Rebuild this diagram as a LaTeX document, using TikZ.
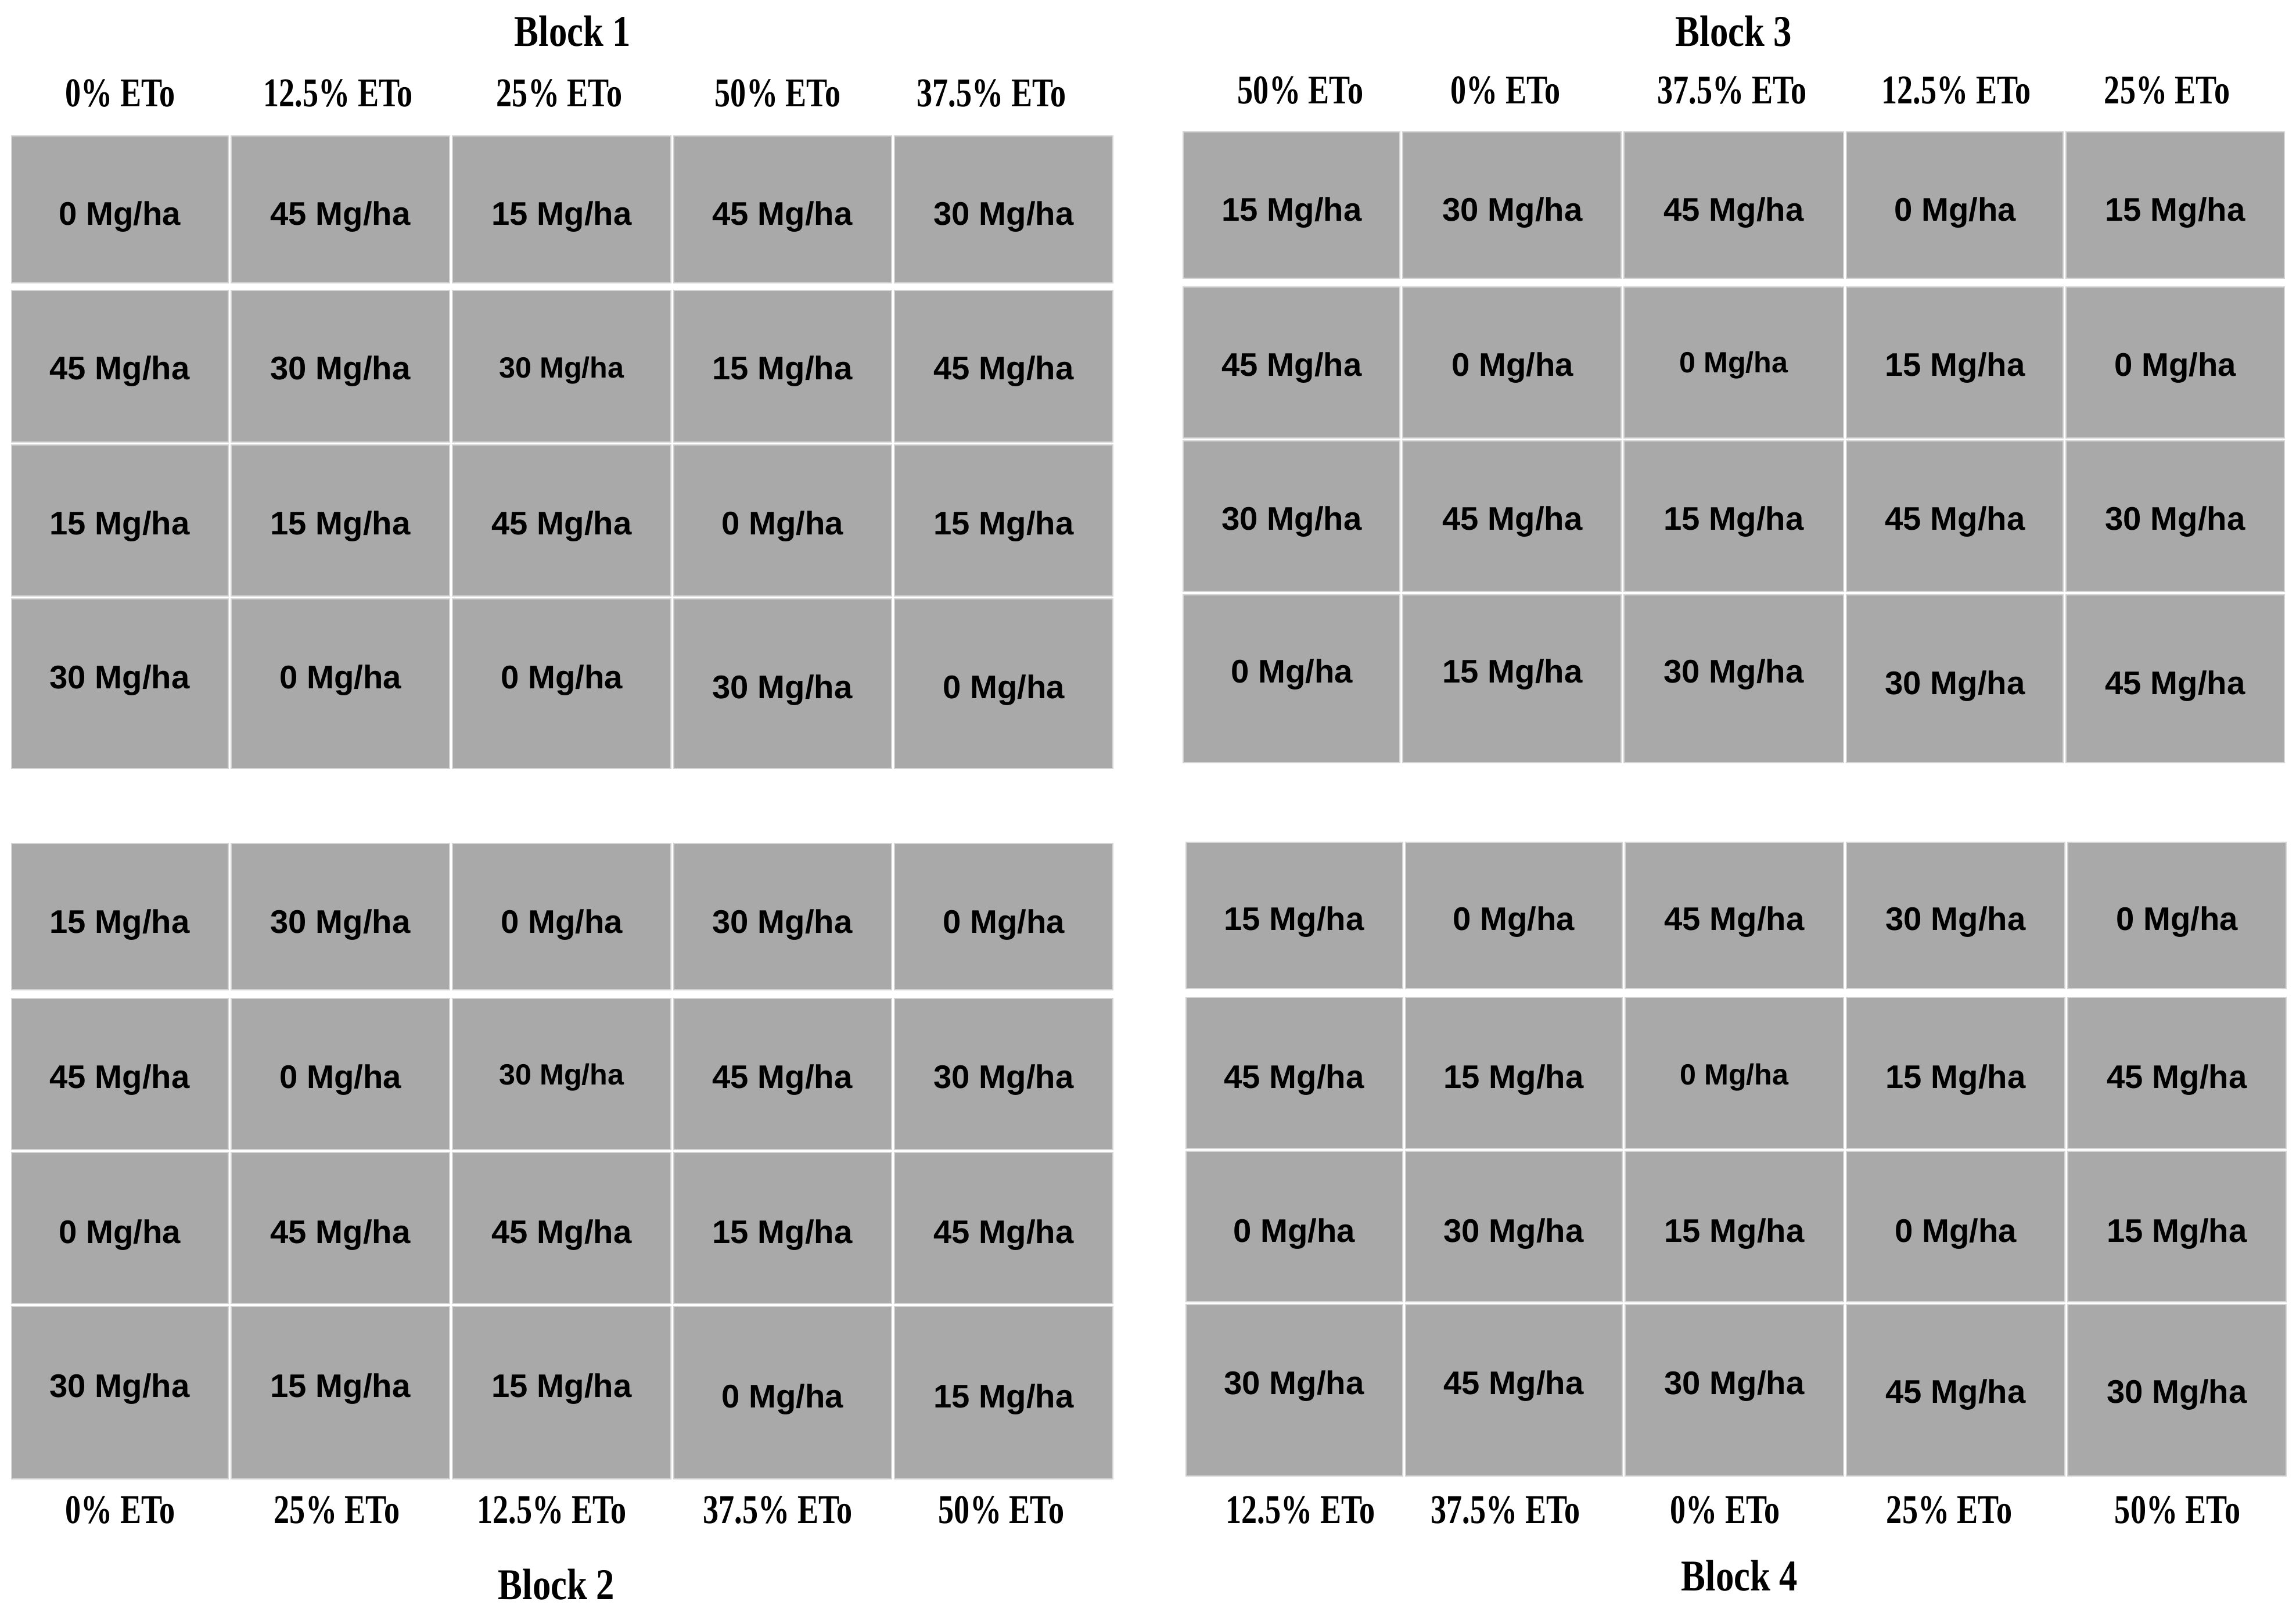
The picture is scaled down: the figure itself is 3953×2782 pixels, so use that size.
\documentclass[tikz,border=0pt]{standalone}
\usepackage{fontspec}
\setmainfont{Liberation Serif}
\newfontfamily\cellfont{Liberation Sans}
\newfontfamily\hdrfont[FakeStretch=0.77]{Liberation Serif}
\newfontfamily\blkfont[FakeStretch=0.83]{Liberation Serif}
\definecolor{plotgray}{RGB}{169,169,169}
\definecolor{edgegray}{RGB}{212,212,212}
\begin{document}
\begin{tikzpicture}[x=0.01cm,y=-0.01cm,
 plotcell/.style={fill=plotgray,draw=edgegray,line width=0.025cm},
 ratetxt/.style={anchor=base,inner sep=0pt,font=\cellfont\bfseries\fontsize{16}{19}\selectfont},
 ratesmall/.style={anchor=base,inner sep=0pt,font=\cellfont\bfseries\fontsize{14.3}{17}\selectfont},
 etotxt/.style={anchor=base,inner sep=0pt,font=\hdrfont\bfseries\fontsize{20}{24}\selectfont},
 blocklabel/.style={anchor=base,inner sep=0pt,font=\blkfont\bfseries\fontsize{21.5}{26}\selectfont}]
\useasboundingbox (0,0) rectangle (3953,2782);

% ---------- plots ----------
\foreach \xa/\xb in {20/393,398/774,779/1155,1160/1535,1540/1916}{
  \foreach \ya/\yb in {234/487,500/761,766/1026,1031/1323,1452/1704,1719/1979,1984/2244,2249/2546}{
    \path[plotcell] (\xa,\ya) rectangle (\xb,\yb);
  }
}
\foreach \xa/\xb in {2037/2410,2415/2791,2796/3174,3179/3552,3557/3933}{
  \foreach \ya/\yb in {227/479,494/754,759/1018,1024/1313}{
    \path[plotcell] (\xa,\ya) rectangle (\xb,\yb);
  }
}
\foreach \xa/\xb in {2042/2415,2420/2793,2798/3174,3179/3555,3560/3936}{
  \foreach \ya/\yb in {1450/1702,1717/1977,1982/2241,2246/2541}{
    \path[plotcell] (\xa,\ya) rectangle (\xb,\yb);
  }
}

% ---------- Block 1 ----------
\node[blocklabel] (blk1) at (986,80) {Block 1};
\node[etotxt] (b1h1) at (207,184) {0\% ETo};
\node[etotxt] (b1h2) at (582,184) {12.5\% ETo};
\node[etotxt] (b1h3) at (963,184) {25\% ETo};
\node[etotxt] (b1h4) at (1339,184) {50\% ETo};
\node[etotxt] (b1h5) at (1707,184) {37.5\% ETo};

\node[ratetxt] (b1r1c1) at (206,388) {0 Mg/ha};
\node[ratetxt] (b1r1c2) at (586,388) {45 Mg/ha};
\node[ratetxt] (b1r1c3) at (967,388) {15 Mg/ha};
\node[ratetxt] (b1r1c4) at (1347,388) {45 Mg/ha};
\node[ratetxt] (b1r1c5) at (1728,388) {30 Mg/ha};

\node[ratetxt] (b1r2c1) at (206,653) {45 Mg/ha};
\node[ratetxt] (b1r2c2) at (586,653) {30 Mg/ha};
\node[ratesmall] (b1r2c3) at (967,651) {30 Mg/ha};
\node[ratetxt] (b1r2c4) at (1347,653) {15 Mg/ha};
\node[ratetxt] (b1r2c5) at (1728,653) {45 Mg/ha};

\node[ratetxt] (b1r3c1) at (206,920) {15 Mg/ha};
\node[ratetxt] (b1r3c2) at (586,920) {15 Mg/ha};
\node[ratetxt] (b1r3c3) at (967,920) {45 Mg/ha};
\node[ratetxt] (b1r3c4) at (1347,920) {0 Mg/ha};
\node[ratetxt] (b1r3c5) at (1728,920) {15 Mg/ha};

\node[ratetxt] (b1r4c1) at (206,1185) {30 Mg/ha};
\node[ratetxt] (b1r4c2) at (586,1185) {0 Mg/ha};
\node[ratetxt] (b1r4c3) at (967,1185) {0 Mg/ha};
\node[ratetxt] (b1r4c4) at (1347,1202) {30 Mg/ha};
\node[ratetxt] (b1r4c5) at (1728,1202) {0 Mg/ha};

% ---------- Block 2 ----------
\node[ratetxt] (b2r1c1) at (206,1606) {15 Mg/ha};
\node[ratetxt] (b2r1c2) at (586,1606) {30 Mg/ha};
\node[ratetxt] (b2r1c3) at (967,1606) {0 Mg/ha};
\node[ratetxt] (b2r1c4) at (1347,1606) {30 Mg/ha};
\node[ratetxt] (b2r1c5) at (1728,1606) {0 Mg/ha};

\node[ratetxt] (b2r2c1) at (206,1873) {45 Mg/ha};
\node[ratetxt] (b2r2c2) at (586,1873) {0 Mg/ha};
\node[ratesmall] (b2r2c3) at (967,1867) {30 Mg/ha};
\node[ratetxt] (b2r2c4) at (1347,1873) {45 Mg/ha};
\node[ratetxt] (b2r2c5) at (1728,1873) {30 Mg/ha};

\node[ratetxt] (b2r3c1) at (206,2140) {0 Mg/ha};
\node[ratetxt] (b2r3c2) at (586,2140) {45 Mg/ha};
\node[ratetxt] (b2r3c3) at (967,2140) {45 Mg/ha};
\node[ratetxt] (b2r3c4) at (1347,2140) {15 Mg/ha};
\node[ratetxt] (b2r3c5) at (1728,2140) {45 Mg/ha};

\node[ratetxt] (b2r4c1) at (206,2405) {30 Mg/ha};
\node[ratetxt] (b2r4c2) at (586,2405) {15 Mg/ha};
\node[ratetxt] (b2r4c3) at (967,2405) {15 Mg/ha};
\node[ratetxt] (b2r4c4) at (1347,2423) {0 Mg/ha};
\node[ratetxt] (b2r4c5) at (1728,2423) {15 Mg/ha};

\node[etotxt] (b2h1) at (207,2622) {0\% ETo};
\node[etotxt] (b2h2) at (580,2622) {25\% ETo};
\node[etotxt] (b2h3) at (950,2622) {12.5\% ETo};
\node[etotxt] (b2h4) at (1339,2622) {37.5\% ETo};
\node[etotxt] (b2h5) at (1724,2622) {50\% ETo};
\node[blocklabel] (blk2) at (958,2753) {Block 2};

% ---------- Block 3 ----------
\node[blocklabel] (blk3) at (2985,80) {Block 3};
\node[etotxt] (b3h1) at (2239,179) {50\% ETo};
\node[etotxt] (b3h2) at (2592,179) {0\% ETo};
\node[etotxt] (b3h3) at (2982,179) {37.5\% ETo};
\node[etotxt] (b3h4) at (3368,179) {12.5\% ETo};
\node[etotxt] (b3h5) at (3731,179) {25\% ETo};

\node[ratetxt] (b3r1c1) at (2224,381) {15 Mg/ha};
\node[ratetxt] (b3r1c2) at (2604,381) {30 Mg/ha};
\node[ratetxt] (b3r1c3) at (2985,381) {45 Mg/ha};
\node[ratetxt] (b3r1c4) at (3366,381) {0 Mg/ha};
\node[ratetxt] (b3r1c5) at (3745,381) {15 Mg/ha};

\node[ratetxt] (b3r2c1) at (2224,648) {45 Mg/ha};
\node[ratetxt] (b3r2c2) at (2604,648) {0 Mg/ha};
\node[ratesmall] (b3r2c3) at (2985,642) {0 Mg/ha};
\node[ratetxt] (b3r2c4) at (3366,648) {15 Mg/ha};
\node[ratetxt] (b3r2c5) at (3745,648) {0 Mg/ha};

\node[ratetxt] (b3r3c1) at (2224,912) {30 Mg/ha};
\node[ratetxt] (b3r3c2) at (2604,912) {45 Mg/ha};
\node[ratetxt] (b3r3c3) at (2985,912) {15 Mg/ha};
\node[ratetxt] (b3r3c4) at (3366,912) {45 Mg/ha};
\node[ratetxt] (b3r3c5) at (3745,912) {30 Mg/ha};

\node[ratetxt] (b3r4c1) at (2224,1175) {0 Mg/ha};
\node[ratetxt] (b3r4c2) at (2604,1175) {15 Mg/ha};
\node[ratetxt] (b3r4c3) at (2985,1175) {30 Mg/ha};
\node[ratetxt] (b3r4c4) at (3366,1195) {30 Mg/ha};
\node[ratetxt] (b3r4c5) at (3745,1195) {45 Mg/ha};

% ---------- Block 4 ----------
\node[ratetxt] (b4r1c1) at (2228,1601) {15 Mg/ha};
\node[ratetxt] (b4r1c2) at (2606,1601) {0 Mg/ha};
\node[ratetxt] (b4r1c3) at (2986,1601) {45 Mg/ha};
\node[ratetxt] (b4r1c4) at (3367,1601) {30 Mg/ha};
\node[ratetxt] (b4r1c5) at (3748,1601) {0 Mg/ha};

\node[ratetxt] (b4r2c1) at (2228,1873) {45 Mg/ha};
\node[ratetxt] (b4r2c2) at (2606,1873) {15 Mg/ha};
\node[ratesmall] (b4r2c3) at (2986,1867) {0 Mg/ha};
\node[ratetxt] (b4r2c4) at (3367,1873) {15 Mg/ha};
\node[ratetxt] (b4r2c5) at (3748,1873) {45 Mg/ha};

\node[ratetxt] (b4r3c1) at (2228,2138) {0 Mg/ha};
\node[ratetxt] (b4r3c2) at (2606,2138) {30 Mg/ha};
\node[ratetxt] (b4r3c3) at (2986,2138) {15 Mg/ha};
\node[ratetxt] (b4r3c4) at (3367,2138) {0 Mg/ha};
\node[ratetxt] (b4r3c5) at (3748,2138) {15 Mg/ha};

\node[ratetxt] (b4r4c1) at (2228,2400) {30 Mg/ha};
\node[ratetxt] (b4r4c2) at (2606,2400) {45 Mg/ha};
\node[ratetxt] (b4r4c3) at (2986,2400) {30 Mg/ha};
\node[ratetxt] (b4r4c4) at (3367,2415) {45 Mg/ha};
\node[ratetxt] (b4r4c5) at (3748,2415) {30 Mg/ha};

\node[etotxt] (b4h1) at (2239,2622) {12.5\% ETo};
\node[etotxt] (b4h2) at (2592,2622) {37.5\% ETo};
\node[etotxt] (b4h3) at (2970,2622) {0\% ETo};
\node[etotxt] (b4h4) at (3356,2622) {25\% ETo};
\node[etotxt] (b4h5) at (3749,2622) {50\% ETo};
\node[blocklabel] (blk4) at (2995,2738) {Block 4};
\end{tikzpicture}
\end{document}
